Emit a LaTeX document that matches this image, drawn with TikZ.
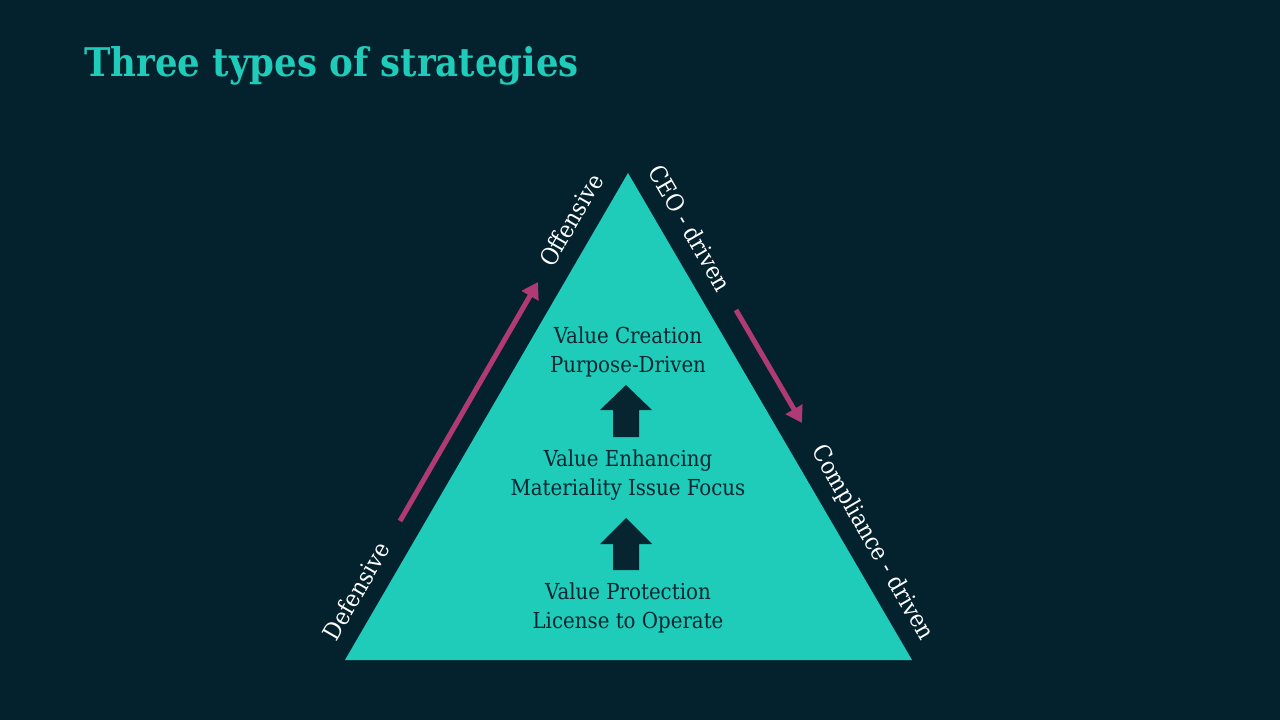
\documentclass[tikz,border=0pt]{standalone}
\usepackage{fontspec}
\setmainfont{DejaVu Serif Condensed}
\usetikzlibrary{arrows.meta}
\definecolor{bgc}{HTML}{03222E}
\definecolor{tealc}{HTML}{1ECCB9}
\definecolor{magc}{HTML}{B03A74}
\definecolor{darkc}{HTML}{062530}
\tikzset{
  inner/.style={font=\fontsize{16.5}{22}\selectfont, text=darkc, align=center, inner sep=0pt},
  side/.style={font=\fontsize{18}{22}\selectfont, text=white, inner sep=0pt},
  magarrow/.style={draw=magc, line width=3.8pt, -{Triangle[length=12pt,width=14pt]}},
  blockarrow/.style={fill=darkc, draw=none},
}
\begin{document}
\begin{tikzpicture}[x=0.75pt,y=-0.75pt]
\fill[bgc] (0,0) rectangle (1280,720);
\useasboundingbox (0,0) rectangle (1280,720);
\node[anchor=base west, inner sep=0pt, text=tealc, font=\fontsize{29.6}{34}\selectfont\bfseries] (title) at (84,77) {Three types of strategies};
% triangle
\coordinate (A) at (345,660);
\coordinate (B) at (912,660);
\coordinate (C) at (628,173);
\fill[tealc] (A) -- (B) -- (C) -- cycle;
% inner texts
\node[inner] (t1) at (628,352) {Value Creation\\Purpose-Driven};
\node[inner] (t2) at (628,475) {Value Enhancing\\Materiality Issue Focus};
\node[inner] (t3) at (628,608) {Value Protection\\License to Operate};
% block arrows
\fill[blockarrow] (613,437) -- (613,410) -- (600,410) -- (626,385) -- (652,410) -- (639,410) -- (639,437) -- cycle;
\fill[blockarrow] (613,570) -- (613,544) -- (600,544) -- (626,518) -- (652,544) -- (639,544) -- (639,570) -- cycle;
% side labels
\node[side, rotate=60] (off) at (571,220) {Offensive};
\node[side, rotate=60] (def) at (356,591) {Defensive};
\node[side, rotate=-60] (ceo) at (690,228) {CEO - driven};
\node[side, rotate=-60] (comp) at (872,543) {Compliance - driven};
% magenta arrows
\coordinate (l1) at (400,521);
\coordinate (l2) at (538,282);
\coordinate (r1) at (736,310);
\coordinate (r2) at (802,423);
\draw[magarrow] (l1) -- (l2);
\draw[magarrow] (r1) -- (r2);
\end{tikzpicture}
\end{document}
